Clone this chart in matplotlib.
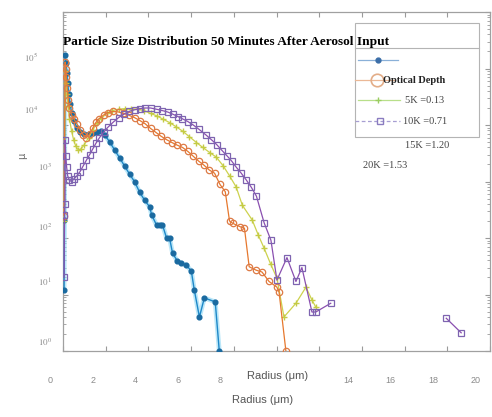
import numpy as np
import matplotlib
matplotlib.use("Agg")
import matplotlib.pyplot as plt
from matplotlib.patches import Rectangle

# ---- data: radius (um) and particle counts per size bin ----
r_aer = [0.05, 0.07, 0.10, 0.14, 0.18, 0.22, 0.27, 0.33, 0.40, 0.50, 0.65, 0.80, 1.00, 1.20,
         1.40, 1.60, 1.80, 1.96, 2.19, 2.42, 2.66, 2.89, 3.12, 3.36, 3.59, 3.82, 4.06, 4.15,
         4.38, 4.52, 4.66, 4.85, 4.99, 5.13, 5.36, 5.55, 5.78, 6.01, 6.15, 6.39, 6.62, 7.13, 7.32]
n_aer = [12, 209, 1.74e5, 1.26e5, 8.3e4, 5.6e4, 3.5e4, 2.4e4, 1.66e4, 1.2e4, 8.9e3, 7.6e3, 6.9e3, 6.8e3,
         7.1e3, 7.6e3, 7.9e3, 6.6e3, 5.0e3, 3.6e3, 2.6e3, 1.86e3, 1.35e3, 980, 645, 468, 355, 257,
         170, 170, 170, 100, 100, 54, 39, 36, 33, 26, 12, 4, 8.7, 7.4, 1]

r_od = [0.05, 0.10, 0.13, 0.16, 0.20, 0.25, 0.30, 0.40, 0.50, 0.65, 0.80, 0.95, 1.10, 1.25, 1.40,
        1.55, 1.70, 1.90, 2.10, 2.35, 2.60, 2.85, 3.10, 3.35, 3.60, 3.85, 4.10, 4.35, 4.60, 4.85,
        5.10, 5.35, 5.60, 5.85, 6.10, 6.35, 6.60, 6.85, 7.10, 7.35, 7.60, 7.80, 7.95, 8.30, 8.50,
        8.72, 9.04, 9.32, 9.65, 10.02, 10.12, 10.44]
n_od = [250, 1.3e5, 1.0e5, 7.1e4, 4.5e4, 2.8e4, 2.0e4, 1.5e4, 1.3e4, 1.05e4, 8.3e3, 6.6e3, 6.0e3, 6.9e3, 8.9e3,
        1.12e4, 1.3e4, 1.5e4, 1.66e4, 1.74e4, 1.7e4, 1.6e4, 1.48e4, 1.35e4, 1.2e4, 1.05e4, 8.7e3, 7.4e3, 6.3e3, 5.5e3,
        4.9e3, 4.4e3, 4.0e3, 3.4e3, 2.8e3, 2.3e3, 1.95e3, 1.6e3, 1.4e3, 890, 660, 200, 182, 158, 148,
        31, 27, 25, 17, 13.5, 11, 1]

r_5k = [0.05, 0.10, 0.14, 0.18, 0.23, 0.30, 0.40, 0.50, 0.60, 0.72, 0.85, 1.00, 1.20, 1.40, 1.60,
        1.80, 2.05, 2.30, 2.60, 2.90, 3.20, 3.50, 3.80, 4.10, 4.40, 4.70, 5.00, 5.30, 5.60, 5.92,
        6.25, 6.55, 6.90, 7.18, 7.50, 7.80, 8.11, 8.40, 8.86, 9.15, 9.42, 9.72, 10.02, 10.35,
        10.91, 11.38, 11.66, 11.84]
n_5k = [200, 8.9e4, 5.6e4, 3.5e4, 2.2e4, 1.3e4, 7.9e3, 5.4e3, 4.2e3, 3.6e3, 3.8e3, 4.5e3, 6.0e3, 8.3e3, 1.1e4,
        1.32e4, 1.6e4, 1.8e4, 1.9e4, 1.95e4, 1.95e4, 1.9e4, 1.8e4, 1.6e4, 1.45e4, 1.26e4, 1.1e4, 9.3e3, 7.8e3, 6.2e3,
        4.9e3, 4.0e3, 3.2e3, 2.7e3, 1.9e3, 1.26e3, 800, 380, 209, 112, 66, 35, 19.5, 4,
        7, 13.5, 8, 6]

r_10k = [0.05, 0.07, 0.09, 0.10, 0.13, 0.17, 0.22, 0.30, 0.40, 0.50, 0.65, 0.80, 0.95, 1.10, 1.25,
         1.40, 1.55, 1.70, 1.90, 2.10, 2.35, 2.60, 2.85, 3.10, 3.35, 3.60, 3.85, 4.10, 4.38, 4.65,
         4.90, 5.15, 5.40, 5.59, 5.85, 6.10, 6.35, 6.71, 6.95, 7.20, 7.46, 7.70, 7.90, 8.11, 8.35,
         8.58, 8.82, 9.06, 9.42, 9.74, 10.02, 10.49, 10.91, 11.19, 11.66, 11.84, 12.54, 15.0,
         17.95, 18.65]
n_10k = [20, 257, 400, 5.4e3, 2.8e3, 1.8e3, 1.26e3, 1.05e3, 1.0e3, 1.1e3, 1.26e3, 1.5e3, 1.9e3, 2.4e3, 3.0e3,
         3.8e3, 4.8e3, 5.9e3, 7.4e3, 9.1e3, 1.12e4, 1.35e4, 1.55e4, 1.74e4, 1.86e4, 1.95e4, 2.0e4, 2.0e4, 1.9e4, 1.8e4,
         1.7e4, 1.55e4, 1.4e4, 1.29e4, 1.15e4, 1.0e4, 8.5e3, 6.6e3, 5.5e3, 4.5e3, 3.5e3, 2.8e3, 2.3e3, 1.8e3, 1.4e3,
         1.07e3, 790, 550, 186, 91, 18, 45, 17, 30, 4.9, 4.9, 7, np.nan,
         3.8, 2.1]

title = "Particle Size Distribution 50 Minutes After Aerosol Input"
x_ticks = [0, 2, 4, 6, 8, 14, 16, 18, 20]
y_tick_exp = [5, 4, 3, 2, 1, 0]
legend_labels = ["", "Optical Depth", "5K =0.13", "10K =0.71"]
extra_labels = ["15K =1.20", "20K =1.53"]
xlabel = "Radius (\u03bcm)"

# ---- figure in pixel units ----
W, H = 492, 417
fig = plt.figure(figsize=(W / 100, H / 100), dpi=100)
fig.patch.set_facecolor("white")


def box(l, t, r, b):
    return [l / W, 1 - b / H, (r - l) / W, (b - t) / H]


ax = fig.add_axes(box(63, 12, 490, 351))
ax.set_yscale("log")
ax.set_xlim(0, 20)
ax.set_ylim(1, 1e6)
ax.set_xticks(np.arange(0, 21, 2))
ax.tick_params(which="both", direction="in", top=True, right=True, color="#9a9a9a",
               labelbottom=False, labelleft=False)
ax.tick_params(which="major", length=3.5)
ax.tick_params(which="minor", length=2)
for s in ax.spines.values():
    s.set_color("#a0a0a0")
    s.set_linewidth(0.9)

# aerosol series with soft halo
ax.plot(r_aer, n_aer, color="#8fd8f5", lw=3.4, alpha=0.6, solid_capstyle="round", zorder=2)
ax.plot(r_aer, n_aer, color="#1e88c8", lw=1.0, marker="o", ms=3.4,
        mfc="#1a6aa0", mec="#1a6aa0", zorder=3)
ax.plot(r_5k, n_5k, color="#cdd24e", lw=0.9, marker="+", ms=4, mec="#c4cb45", zorder=3)
ax.plot(r_od, n_od, color="#e6782e", lw=0.9, marker="o", ms=4.6, mfc="none",
        mec="#dd7a45", mew=0.9, zorder=4)
ax.plot(r_10k, n_10k, color="#8a4fb0", lw=0.9, marker="s", ms=4.2, mfc="none",
        mec="#7e64b0", mew=0.9, zorder=5)

# bottom tick labels on a shifted scale
lab = fig.add_axes(box(50, 351, 476, 352))
lab.set_xlim(0, 20)
lab.set_xticks(x_ticks)
lab.set_xticklabels([str(v) for v in x_ticks], fontsize=6.5, color="#8a8a8a",
                    family="Liberation Sans")
lab.tick_params(axis="x", length=0, pad=17)
lab.set_yticks([])
lab.patch.set_visible(False)
for s in lab.spines.values():
    s.set_visible(False)

# overlay for annotation text and legend
ov = fig.add_axes([0, 0, 1, 1], zorder=10)
ov.set_xlim(0, W)
ov.set_ylim(H, 0)
ov.axis("off")
ov.patch.set_visible(False)

plt.rcParams["mathtext.fontset"] = "stix"
y_lab_pos = [(38, 58), (38, 110), (52, 167), (52, 227), (52, 283), (52, 342)]
for e, (xr, yp) in zip(y_tick_exp, y_lab_pos):
    ov.text(xr, yp, r"$10^{%d}$" % e, ha="right", va="center", fontsize=6.5, color="#8a8a8a")

ov.text(22, 156, "\u03bc", rotation=90, ha="center", va="center", fontsize=7, color="#666666")

ov.text(278, 376, xlabel, ha="center", va="center", fontsize=8, color="#555555",
        family="Liberation Sans")
ov.text(263, 400, xlabel, ha="center", va="center", fontsize=8, color="#555555",
        family="Liberation Sans")

# legend box
ov.add_patch(Rectangle((355, 23), 124, 114, fc="white", ec="#b4b4b4", lw=0.8, zorder=1))
ov.plot([355, 479], [48, 48], color="#b4b4b4", lw=0.8, zorder=2)
ov.plot([358, 398], [60, 60], color="#8ab0d8", lw=0.9, zorder=2)
ov.plot([378], [60], marker="o", ms=3.5, color="#3b6ea8", zorder=3)
ov.plot([355, 395], [80, 80], color="#ebb896", lw=0.9, zorder=2)
ov.plot([377], [80], marker="o", ms=9, mfc="none", mec="#e3ad88", mew=1.2, zorder=3)
ov.plot([358, 400], [100, 100], color="#b8df8a", lw=0.9, zorder=2)
ov.plot([378], [100], marker="+", ms=5, mec="#9acd60", zorder=3)
ov.plot([355, 400], [121, 121], color="#a79ed2", lw=0.9, ls=(0, (3, 2)), zorder=2)
ov.plot([380], [121], marker="s", ms=5, mfc="none", mec="#8a7cc0", zorder=3)

ov.text(383, 80, legend_labels[1], ha="left", va="center", fontsize=7.5, fontweight="bold",
        family="Liberation Serif", color="#222222", zorder=4)
ov.text(405, 100, legend_labels[2], ha="left", va="center", fontsize=7.5,
        family="Liberation Serif", color="#444444", zorder=4)
ov.text(403, 121, legend_labels[3], ha="left", va="center", fontsize=7.5,
        family="Liberation Serif", color="#444444", zorder=4)
ov.text(405, 145, extra_labels[0], ha="left", va="center", fontsize=7.5,
        family="Liberation Serif", color="#444444", zorder=4)
ov.text(363, 165, extra_labels[1], ha="left", va="center", fontsize=7.5,
        family="Liberation Serif", color="#444444", zorder=4)

ov.text(63, 42, title, ha="left", va="center", fontsize=9.6, fontweight="bold",
        family="Liberation Serif", color="black", zorder=6)

fig.savefig("out.png", dpi=100)
